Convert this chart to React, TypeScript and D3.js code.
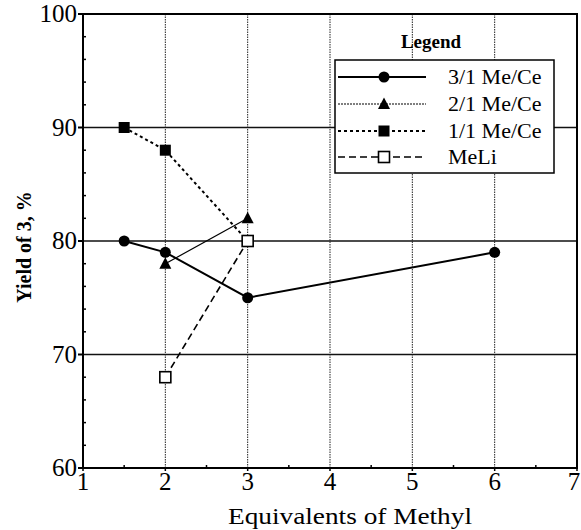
import React from "react";
import * as d3 from "d3";

const xTicks = [1, 2, 3, 4, 5, 6, 7];
const yTicks = [60, 70, 80, 90, 100];
const xMinor = [1.5, 2.5, 3.5, 4.5, 5.5, 6.5];
const yMinor = [62, 64, 66, 68, 72, 74, 76, 78, 82, 84, 86, 88, 92, 94, 96, 98];

const s31x = [1.5, 2, 3, 6];
const s31y = [80, 79, 75, 79];
const s21x = [2, 3];
const s21y = [78, 82];
const s11x = [1.5, 2, 3];
const s11y = [90, 88, 80];
const meliX = [2, 3];
const meliY = [68, 80];

const seriesNames = ["3/1 Me/Ce", "2/1 Me/Ce", "1/1 Me/Ce", "MeLi"];

const W = 581, H = 530;
const L = 83, R = 577, T = 14, B = 468;

export default function App() {
  const x = d3.scaleLinear().domain([1, 7]).range([L, R]);
  const y = d3.scaleLinear().domain([60, 100]).range([B, T]);
  const line = d3.line<[number, number]>().x(d => x(d[0])).y(d => y(d[1]));
  const zip = (a: number[], b: number[]) => a.map((v, i) => [v, b[i]] as [number, number]);

  const series = [
    { name: seriesNames[0], pts: zip(s31x, s31y), dash: "", w: 2, marker: "circle" },
    { name: seriesNames[1], pts: zip(s21x, s21y), dash: "", w: 1.2, marker: "tri", legendDash: "2,1" },
    { name: seriesNames[2], pts: zip(s11x, s11y), dash: "3,3", w: 2, marker: "fsq" },
    { name: seriesNames[3], pts: zip(meliX, meliY), dash: "7,4", w: 1.6, marker: "osq" },
  ];

  const marker = (m: string, cx: number, cy: number, key: string) => {
    if (m === "circle") return <circle key={key} cx={cx} cy={cy} r={5.5} fill="#000" />;
    if (m === "tri") return <path key={key} d={`M${cx},${cy - 6.5}L${cx + 6},${cy + 5}L${cx - 6},${cy + 5}Z`} fill="#000" />;
    if (m === "fsq") return <rect key={key} x={cx - 5.5} y={cy - 5.5} width={11} height={11} fill="#000" />;
    return <rect key={key} x={cx - 5.5} y={cy - 5.5} width={11} height={11} fill="#fff" stroke="#000" strokeWidth={1.6} />;
  };

  const font = "Liberation Serif";
  const legX = 335, legY = 60, legW = 219, legH = 113;
  const rowY = [77, 104, 131, 157];

  return (
    <svg width={W} height={H} style={{ position: "absolute", left: 0, top: 0, background: "#fff", fontFamily: font }}>
      {xTicks.slice(1, -1).map(t => (
        <line key={"vx" + t} x1={x(t)} x2={x(t)} y1={T} y2={B} stroke="#222" strokeWidth={1} strokeDasharray="1.5,1" />
      ))}
      {yTicks.slice(1, -1).map(t => (
        <line key={"hy" + t} x1={L} x2={R} y1={y(t)} y2={y(t)} stroke="#111" strokeWidth={1.5} />
      ))}
      <rect x={L} y={T} width={R - L} height={B - T} fill="none" stroke="#000" strokeWidth={2} />
      {yTicks.map(t => (
        <line key={"yt" + t} x1={L - 5} x2={L} y1={y(t)} y2={y(t)} stroke="#000" strokeWidth={2} />
      ))}
      {xTicks.map(t => (
        <line key={"xt" + t} x1={x(t)} x2={x(t)} y1={B} y2={B + 3} stroke="#000" strokeWidth={1.5} />
      ))}
      {yMinor.map(t => (
        <line key={"ym" + t} x1={L} x2={L + 3} y1={y(t)} y2={y(t)} stroke="#000" strokeWidth={1.5} />
      ))}
      {xMinor.map(t => (
        <line key={"xm" + t} x1={x(t)} x2={x(t)} y1={B} y2={B - 3} stroke="#000" strokeWidth={1.5} />
      ))}
      {yTicks.map(t => (
        <text key={"yl" + t} x={L - 6} y={y(t) + 8} textAnchor="end" fontSize={25}>{t}</text>
      ))}
      {xTicks.map(t => (
        <text key={"xl" + t} x={t === 7 ? x(t) - 3 : x(t)} y={B + 22} textAnchor="middle" fontSize={25}>{t}</text>
      ))}
      <text x={350} y={524} textAnchor="middle" fontSize={24} textLength={244} lengthAdjust="spacingAndGlyphs">Equivalents of Methyl</text>
      <text transform={`translate(31,247) rotate(-90)`} textAnchor="middle" fontSize={20} fontWeight="bold">Yield of 3, %</text>

      {series.map(s => (
        <path key={"l" + s.name} d={line(s.pts) || ""} fill="none" stroke="#000" strokeWidth={s.w} strokeDasharray={s.dash} />
      ))}
      {series.map(s => s.pts.map((p, i) => marker(s.marker, x(p[0]), y(p[1]), s.name + i)))}

      <text x={431} y={48} textAnchor="middle" fontSize={19} fontWeight="bold">Legend</text>
      <rect x={legX} y={legY} width={legW} height={legH} fill="#fff" stroke="#000" strokeWidth={1.5} />
      {series.map((s, i) => (
        <g key={"lg" + s.name}>
          <line x1={338} x2={426} y1={rowY[i]} y2={rowY[i]} stroke="#000" strokeWidth={s.w} strokeDasharray={(s as any).legendDash || s.dash} />
          {marker(s.marker, 384, rowY[i], "lm" + i)}
          <text x={448} y={rowY[i] + 7} fontSize={22}>{s.name}</text>
        </g>
      ))}
    </svg>
  );
}
